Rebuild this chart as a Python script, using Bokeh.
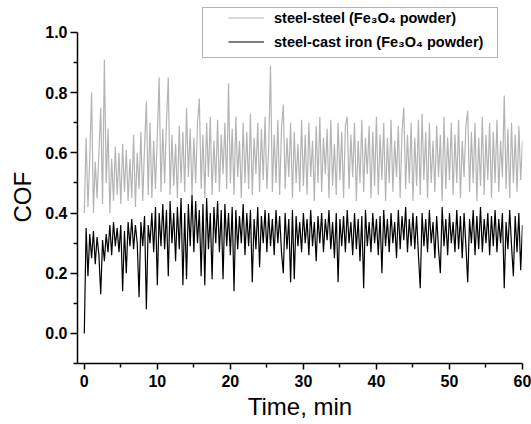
import numpy as np
from bokeh.plotting import figure
from bokeh.models import (Range1d, Legend, LegendItem, FixedTicker, Title,
                          PrintfTickFormatter, BoxAnnotation)
from bokeh.embed import file_html
from bokeh.resources import INLINE

# ---- data (COF vs time, 0.25 min sampling) ----
steel_steel = [
    0.40, 0.65, 0.42, 0.58, 0.80, 0.40, 0.57, 0.45, 0.60, 0.75, 0.43, 0.91, 0.50, 0.68, 0.40, 0.58, 0.44, 0.62, 0.46, 0.60, 0.43,
    0.63, 0.47, 0.61, 0.44, 0.58, 0.45, 0.66, 0.42, 0.60, 0.48, 0.67, 0.44, 0.62, 0.77, 0.46, 0.70, 0.45, 0.64, 0.48, 0.66,
    0.85, 0.47, 0.68, 0.50, 0.70, 0.85, 0.46, 0.66, 0.49, 0.63, 0.45, 0.69, 0.50, 0.67, 0.47, 0.75, 0.52, 0.68, 0.46, 0.65,
    0.50, 0.70, 0.78, 0.48, 0.66, 0.45, 0.70, 0.52, 0.72, 0.46, 0.64, 0.50, 0.71, 0.47, 0.66, 0.53, 0.70, 0.48, 0.83, 0.50,
    0.68, 0.46, 0.72, 0.52, 0.64, 0.45, 0.70, 0.50, 0.67, 0.48, 0.73, 0.46, 0.65, 0.53, 0.70, 0.47, 0.68, 0.51, 0.72, 0.48,
    0.62, 0.89, 0.47, 0.66, 0.50, 0.71, 0.46, 0.68, 0.76, 0.48, 0.65, 0.52, 0.70, 0.45, 0.67, 0.50, 0.63, 0.47, 0.71, 0.49,
    0.66, 0.46, 0.70, 0.52, 0.64, 0.44, 0.69, 0.50, 0.72, 0.47, 0.65, 0.53, 0.68, 0.45, 0.71, 0.49, 0.63, 0.46, 0.70, 0.51,
    0.67, 0.45, 0.69, 0.72, 0.48, 0.66, 0.52, 0.70, 0.44, 0.64, 0.50, 0.71, 0.47, 0.65, 0.53, 0.69, 0.45, 0.67, 0.49, 0.72,
    0.46, 0.66, 0.51, 0.70, 0.44, 0.65, 0.50, 0.71, 0.47, 0.64, 0.52, 0.69, 0.45, 0.67, 0.75, 0.48, 0.66, 0.50, 0.70, 0.44,
    0.65, 0.49, 0.71, 0.46, 0.73, 0.51, 0.67, 0.45, 0.70, 0.50, 0.64, 0.47, 0.69, 0.52, 0.66, 0.44, 0.72, 0.48, 0.65, 0.51,
    0.70, 0.46, 0.66, 0.50, 0.71, 0.45, 0.64, 0.52, 0.69, 0.74, 0.47, 0.67, 0.50, 0.70, 0.44, 0.65, 0.49, 0.72, 0.46, 0.66,
    0.51, 0.70, 0.45, 0.67, 0.50, 0.71, 0.47, 0.64, 0.52, 0.79, 0.48, 0.68, 0.45, 0.70, 0.50, 0.66, 0.47, 0.69, 0.51, 0.64,
]

steel_cast_iron = [
    0.00, 0.35, 0.19, 0.33, 0.25, 0.34, 0.23, 0.32, 0.26, 0.13, 0.31, 0.24, 0.33, 0.27, 0.36, 0.26, 0.37, 0.29, 0.35, 0.27, 0.36,
    0.14, 0.34, 0.20, 0.37, 0.29, 0.38, 0.28, 0.36, 0.30, 0.12, 0.37, 0.29, 0.39, 0.08, 0.36, 0.30, 0.40, 0.27, 0.42, 0.16,
    0.40, 0.29, 0.43, 0.28, 0.41, 0.19, 0.44, 0.30, 0.40, 0.24, 0.42, 0.28, 0.45, 0.16, 0.40, 0.18, 0.43, 0.29, 0.46, 0.27,
    0.44, 0.30, 0.41, 0.19, 0.43, 0.16, 0.45, 0.28, 0.40, 0.18, 0.42, 0.30, 0.44, 0.27, 0.41, 0.18, 0.43, 0.29, 0.40, 0.26,
    0.42, 0.14, 0.41, 0.28, 0.39, 0.30, 0.43, 0.26, 0.40, 0.29, 0.41, 0.17, 0.38, 0.28, 0.42, 0.22, 0.39, 0.30, 0.41, 0.27,
    0.40, 0.29, 0.38, 0.26, 0.41, 0.30, 0.39, 0.27, 0.20, 0.40, 0.28, 0.38, 0.17, 0.41, 0.18, 0.39, 0.29, 0.37, 0.27, 0.40,
    0.30, 0.38, 0.26, 0.41, 0.29, 0.37, 0.24, 0.39, 0.30, 0.40, 0.27, 0.38, 0.31, 0.41, 0.28, 0.37, 0.25, 0.40, 0.17, 0.38,
    0.29, 0.39, 0.27, 0.41, 0.30, 0.37, 0.26, 0.40, 0.28, 0.38, 0.24, 0.39, 0.15, 0.41, 0.29, 0.37, 0.27, 0.40, 0.30, 0.38,
    0.26, 0.39, 0.20, 0.41, 0.29, 0.38, 0.27, 0.40, 0.30, 0.37, 0.25, 0.41, 0.28, 0.39, 0.31, 0.42, 0.27, 0.38, 0.29, 0.40,
    0.28, 0.39, 0.26, 0.15, 0.40, 0.29, 0.38, 0.27, 0.41, 0.30, 0.37, 0.25, 0.39, 0.28, 0.20, 0.42, 0.29, 0.38, 0.26, 0.40,
    0.30, 0.37, 0.27, 0.41, 0.28, 0.39, 0.25, 0.40, 0.29, 0.17, 0.38, 0.30, 0.41, 0.26, 0.39, 0.28, 0.42, 0.27, 0.38, 0.30,
    0.40, 0.26, 0.39, 0.29, 0.41, 0.27, 0.38, 0.30, 0.40, 0.15, 0.37, 0.28, 0.41, 0.29, 0.19, 0.39, 0.27, 0.40, 0.21, 0.36,
]

x_ticks = [0, 10, 20, 30, 40, 50, 60]
y_ticks = [0.0, 0.2, 0.4, 0.6, 0.8, 1.0]
labels = ["steel-steel (Fe\u2083O\u2084 powder)", "steel-cast iron (Fe\u2083O\u2084 powder)"]

t_ss = np.linspace(0, 60, len(steel_steel))
t_sc = np.linspace(0, 60, len(steel_cast_iron))

FONT = "Liberation Sans"

p = figure(width=531, height=424, output_backend="svg", toolbar_location=None,
           x_range=Range1d(-0.93, 60), y_range=Range1d(-0.1, 1.106),
           min_border_left=77, min_border_right=9, min_border_top=0,
           min_border_bottom=61)
p.outline_line_color = None
p.grid.visible = False
p.background_fill_color = "white"

r1 = p.line(t_ss, steel_steel, line_color="#b4b4b4", line_width=1.2)
r2 = p.line(t_sc, steel_cast_iron, line_color="black", line_width=1.2)

# axes
p.xaxis.ticker = FixedTicker(ticks=x_ticks, minor_ticks=[5, 15, 25, 35, 45, 55])
p.yaxis.ticker = FixedTicker(ticks=y_ticks, minor_ticks=[-0.1, 0.1, 0.3, 0.5, 0.7, 0.9])
p.yaxis.formatter = PrintfTickFormatter(format="%.1f")
p.xaxis.bounds = (-0.93, 60)
p.yaxis.bounds = (-0.1, 1.0)
for ax in (p.xaxis, p.yaxis):
    ax.axis_line_width = 1.5
    ax.axis_line_color = "black"
    ax.major_tick_line_width = 1.5
    ax.minor_tick_line_width = 1.5
    ax.major_tick_in = 0
    ax.minor_tick_in = 0
    ax.major_label_text_font = FONT
    ax.major_label_text_font_style = "bold"
    ax.major_label_text_font_size = "16px"
    ax.major_label_text_color = "black"
p.xaxis.major_tick_out = 6
p.xaxis.minor_tick_out = 4
p.xaxis.major_label_standoff = 5
p.yaxis.major_tick_out = 7
p.yaxis.minor_tick_out = 4
p.yaxis.major_label_standoff = 3

p.xaxis.axis_label = "Time, min"
p.xaxis.axis_label_text_font = FONT
p.xaxis.axis_label_text_font_style = "normal"
p.xaxis.axis_label_text_font_size = "24px"
p.xaxis.axis_label_standoff = 3
p.xaxis.axis_label_text_color = "black"

cof = Title(text="COF", align="left", offset=141, standoff=13,
            text_font=FONT, text_font_size="24px", text_font_style="normal",
            text_color="black")
p.add_layout(cof, "left")

# legend frame + legend
box = BoxAnnotation(left=125, right=420, top=356, bottom=306,
                    left_units="screen", right_units="screen",
                    top_units="screen", bottom_units="screen",
                    fill_color="white", fill_alpha=1.0,
                    line_color="black", line_width=1)
p.add_layout(box)

legend = Legend(items=[LegendItem(label=labels[0], renderers=[r1]),
                       LegendItem(label=labels[1], renderers=[r2])],
                location=(151, 313), margin=0, padding=0, spacing=7,
                glyph_width=36, glyph_height=17, label_height=17,
                label_standoff=10, border_line_color=None,
                background_fill_alpha=0.0,
                label_text_font=FONT, label_text_font_style="bold",
                label_text_font_size="14.5px", label_text_color="black")
p.add_layout(legend)

open("out.html", "w").write(file_html(p, INLINE))
